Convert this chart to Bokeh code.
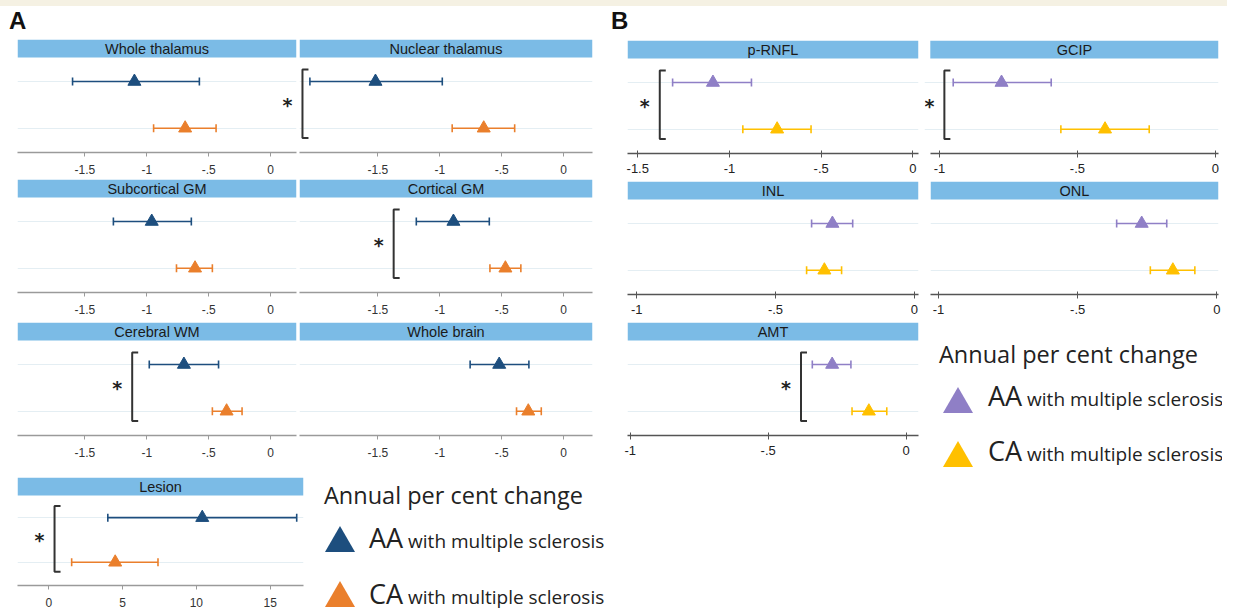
from bokeh.plotting import figure
from bokeh.models import (ColumnDataSource, Whisker, TeeHead, BoxAnnotation, Label,
                          FixedTicker, CustomJSTickFormatter, Range1d, Div)
from bokeh.layouts import row, column
from bokeh.embed import file_html
from bokeh.resources import INLINE

# ---------------- data ----------------
panels_A = ["Whole thalamus", "Nuclear thalamus", "Subcortical GM", "Cortical GM",
            "Cerebral WM", "Whole brain", "Lesion"]
aa_est_A = [-1.10, -1.52, -0.96, -0.89, -0.70, -0.52, 10.4]
aa_lo_A = [-1.60, -2.05, -1.27, -1.19, -0.98, -0.755, 4.0]
aa_hi_A = [-0.575, -0.98, -0.64, -0.60, -0.42, -0.28, 16.8]
ca_est_A = [-0.69, -0.645, -0.61, -0.47, -0.355, -0.285, 4.5]
ca_lo_A = [-0.945, -0.90, -0.76, -0.595, -0.47, -0.38, 1.55]
ca_hi_A = [-0.44, -0.395, -0.47, -0.345, -0.23, -0.18, 7.4]
sig_A = [False, True, False, True, True, False, True]

panels_B = ["p-RNFL", "GCIP", "INL", "ONL", "AMT"]
aa_est_B = [-1.09, -0.775, -0.295, -0.27, -0.268]
aa_lo_B = [-1.31, -0.95, -0.37, -0.36, -0.34]
aa_hi_B = [-0.88, -0.595, -0.222, -0.18, -0.20]
ca_est_B = [-0.74, -0.40, -0.324, -0.158, -0.135]
ca_lo_B = [-0.927, -0.56, -0.388, -0.239, -0.196]
ca_hi_B = [-0.555, -0.24, -0.262, -0.079, -0.07]
sig_B = [True, True, False, False, True]

ticks_brain = [-1.5, -1, -0.5, 0]
ticks_lesion = [0, 5, 10, 15]
ticks_rnfl = [-1.5, -1, -0.5, 0]
ticks_retina = [-1, -0.5, 0]

group_labels = ["AA", "CA"]
legend_title = "Annual per cent change"
legend_suffix = " with multiple sclerosis"
panel_letters = ["A", "B"]

# ---------------- style / layout ----------------
AA_BLUE, CA_ORANGE = "#1d4e7e", "#ea7f2c"
AA_PURPLE, CA_YELLOW = "#8f7fc6", "#ffc000"
STRIP = "#7bbbe6"
BEIGE = "#f5f1e3"
Y0, Y1 = 0.48, 2.9
BR_LO, BR_HI = 0.79, 2.26
FMT = CustomJSTickFormatter(code="return String(tick).replace(/^(-?)0\\./, '$1.');")


def make_panel(name, aa, ca, xr, ticks, colors, fw, fh, bl, br, bt, bb, kind,
               bracket=None, star=True, box_left=None):
    p = figure(width=bl + fw + br, height=bt + fh + bb,
               x_range=Range1d(*xr), y_range=Range1d(Y0, Y1),
               output_backend="svg", toolbar_location=None,
               min_border_left=bl, min_border_right=br,
               min_border_top=bt, min_border_bottom=bb)
    p.outline_line_color = None
    p.background_fill_color = "white"
    p.border_fill_color = "white"
    p.xgrid.visible = False
    p.yaxis.visible = False
    p.ygrid.ticker = FixedTicker(ticks=[1, 2])
    p.ygrid.grid_line_color = "#e4eef3"
    p.ygrid.grid_line_width = 1

    left = xr[0] if box_left is None else box_left
    ax = p.xaxis[0]
    ax.ticker = FixedTicker(ticks=ticks)
    ax.formatter = FMT
    ax.minor_tick_line_color = None
    ax.major_label_text_font = "Liberation Sans"
    if box_left is not None:
        ax.bounds = (box_left, xr[1])
    if kind == "A":
        ax.axis_line_color = "#9a9a9a"
        ax.major_tick_line_color = "#9a9a9a"
        ax.axis_line_width = 1.5
        ax.major_tick_in = 0
        ax.major_tick_out = 4
        ax.major_label_standoff = 8
        ax.major_label_text_font_size = "12px"
        ax.major_label_text_color = "#333333"
    else:
        ax.axis_line_color = "#555555"
        ax.major_tick_line_color = "#555555"
        ax.axis_line_width = 1.5
        ax.major_tick_in = 3
        ax.major_tick_out = 4
        ax.major_label_standoff = 6
        ax.major_label_text_font_size = "13px"
        ax.major_label_text_color = "#222222"

    strip_bottom = Y1 - 18 * (Y1 - Y0) / fh
    box = BoxAnnotation(bottom=strip_bottom, fill_color=STRIP, fill_alpha=1,
                        line_color=None, level="underlay")
    if box_left is not None:
        box.left = box_left
    p.add_layout(box)
    p.add_layout(Label(x=(left + xr[1]) / 2, y=(strip_bottom + Y1) / 2, text=name,
                       text_align="center", text_baseline="middle",
                       text_font="Liberation Sans", text_font_size="14.5px",
                       text_color="#1a1a1a"))

    for (est, lo, hi), yv, c in zip([aa, ca], [2, 1], colors):
        src = ColumnDataSource(dict(y=[yv], est=[est], lo=[lo], hi=[hi]))
        p.add_layout(Whisker(source=src, base="y", lower="lo", upper="hi",
                             dimension="width", line_color=c, line_width=1.6,
                             upper_head=TeeHead(size=8, line_color=c, line_width=1.6),
                             lower_head=TeeHead(size=8, line_color=c, line_width=1.6)))
        p.scatter(x="est", y="y", source=src, marker="triangle", size=13,
                  fill_color=c, line_color=c)

    if bracket is not None:
        dx = 6 * (xr[1] - xr[0]) / fw
        p.line([bracket + dx, bracket, bracket, bracket + dx],
               [BR_LO, BR_LO, BR_HI, BR_HI], line_color="#333333", line_width=2)
        if star:
            p.add_layout(Label(x=bracket, y=1.5, x_offset=-15, text="*",
                               text_align="center", text_baseline="middle",
                               text_font="DejaVu Sans", text_font_style="bold",
                               text_font_size="19px", text_color="#222222"))
    return p


def vals(i, e_aa, l_aa, h_aa, e_ca, l_ca, h_ca):
    return (e_aa[i], l_aa[i], h_aa[i]), (e_ca[i], l_ca[i], h_ca[i])


def letter_div(letter, width, left):
    html = (f'<div style="position:relative;width:{width}px;height:32px;">'
            f'<div style="position:absolute;left:0;top:0;width:{width}px;height:6px;'
            f'background:{BEIGE};"></div>'
            f'<div style="position:absolute;left:{left}px;top:9px;font:bold 24px/24px '
            f'\'Liberation Sans\';color:#111;">{letter}</div></div>')
    return Div(text=html, width=width, height=32, margin=(0, 0, 0, 0))


# panel A geometry
xr_c1, fw_c1, bl_c1, br_c1 = (-2.045, 0.21), 279, 17, 2
xr_c2, fw_c2, bl_c2, br_c2 = (-2.134, 0.234), 293, 1, 17
xr_les, fw_les = (-2.12, 17.26), 286
rowsA = [(7, 113, 26), (1, 113, 26), (4, 113, 26), (16, 108, 26)]
bracket_A = [None, -2.11, None, -1.373, -1.118, None, 0.39]

cA = [AA_BLUE, CA_ORANGE]
figsA = []
for i, name in enumerate(panels_A):
    aa, ca = vals(i, aa_est_A, aa_lo_A, aa_hi_A, ca_est_A, ca_lo_A, ca_hi_A)
    bt, fh, bb = rowsA[i // 2]
    if name == "Lesion":
        xr, fw, bl, br, ticks = xr_les, fw_les, 17, 2, ticks_lesion
    elif i % 2 == 0:
        xr, fw, bl, br, ticks = xr_c1, fw_c1, bl_c1, br_c1, ticks_brain
    else:
        xr, fw, bl, br, ticks = xr_c2, fw_c2, bl_c2, br_c2, ticks_brain
    br_x = bracket_A[i] if sig_A[i] else None
    figsA.append(make_panel(name, aa, ca, xr, ticks, cA, fw, fh, bl, br, bt, bb, "A",
                            bracket=br_x, star=(name != "Nuclear thalamus")))

# star of the Nuclear thalamus comparison sits in the gap left of that panel
figsA[0].add_layout(Label(x=xr_c1[1], y=1.5, x_offset=-9, text="*",
                          text_align="center", text_baseline="middle",
                          text_font="DejaVu Sans", text_font_style="bold",
                          text_font_size="19px", text_color="#222222"))

# panel B geometry
xr_B = [(-1.556, 0.031), (-1.054, 0.011), (-1.033, 0.015), (-1.029, 0.006), (-1.01, 0.045)]
box_left_B = [None, -1.033, None, None, None]
ticks_B = [ticks_rnfl, ticks_retina, ticks_retina, ticks_retina, ticks_retina]
geomB = [(291, 18, 6), (294, 0, 4), (291, 18, 6), (288, 6, 4), (291, 18, 6)]
rowsB = [(8, 113, 26), (2, 113, 26), (2, 113, 26)]
bracket_B = [-1.38, -0.982, None, None, -0.381]
cB = [AA_PURPLE, CA_YELLOW]
figsB = []
for i, name in enumerate(panels_B):
    aa, ca = vals(i, aa_est_B, aa_lo_B, aa_hi_B, ca_est_B, ca_lo_B, ca_hi_B)
    bt, fh, bb = rowsB[i // 2]
    fw, bl, br = geomB[i]
    br_x = bracket_B[i] if sig_B[i] else None
    figsB.append(make_panel(name, aa, ca, xr_B[i], ticks_B[i], cB, fw, fh, bl, br, bt, bb, "B",
                            bracket=br_x, box_left=box_left_B[i]))


def legend_div(colors, width, height, title_left, tri_left, text_left, tops):
    t_title, t_tri1, t_txt1, t_tri2, t_txt2 = tops
    parts = [f'<div style="position:relative;width:{width}px;height:{height}px;overflow:hidden;'
             f'font-family:\'Open Sans\';color:#222;">',
             f'<div style="position:absolute;left:{title_left}px;top:{t_title}px;font-size:23.5px;'
             f'line-height:23.5px;white-space:nowrap;">{legend_title}</div>']
    for lab, c, tt, tx in zip(group_labels, colors, [t_tri1, t_tri2], [t_txt1, t_txt2]):
        parts.append(f'<div style="position:absolute;left:{tri_left}px;top:{tt}px;width:0;height:0;'
                     f'border-left:15px solid transparent;border-right:15px solid transparent;'
                     f'border-bottom:26px solid {c};"></div>')
        parts.append(f'<div style="position:absolute;left:{text_left}px;top:{tx}px;font-size:19px;'
                     f'line-height:20px;white-space:nowrap;"><span style="font-size:27px;">{lab}</span>'
                     f'<span>{legend_suffix}</span></div>')
    parts.append('</div>')
    return Div(text="".join(parts), width=width, height=height, margin=(0, 0, 0, 0),
               styles={"overflow": "hidden"})


legA = legend_div(cA, 304, 150, 19, 20, 64, (23, 65, 67, 120, 123))
legB = legend_div(cB, 298, 150, 15, 19, 64, (23, 67, 66, 121, 121))

colA = column(letter_div(panel_letters[0], 609, 9),
              row(figsA[0], figsA[1]), row(figsA[2], figsA[3]),
              row(figsA[4], figsA[5]), row(figsA[6], legA))
colB = column(letter_div(panel_letters[1], 618, 2),
              row(figsB[0], figsB[1]), row(figsB[2], figsB[3]), row(figsB[4], legB))
p = row(colA, colB)

open("out.html", "w").write(file_html(p, INLINE))
